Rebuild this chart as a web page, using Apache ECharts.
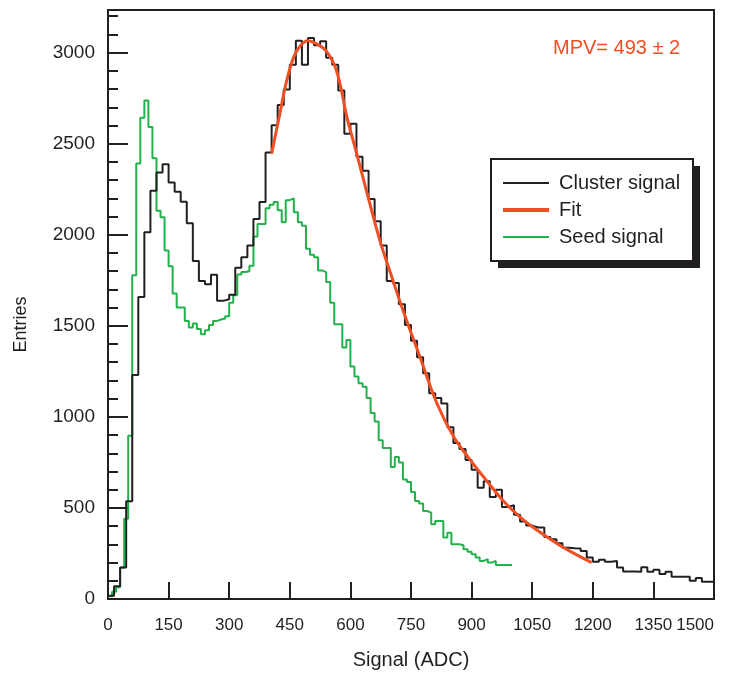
<!DOCTYPE html>
<html>
<head>
<meta charset="utf-8">
<script src="https://cdn.jsdelivr.net/npm/echarts@6/dist/echarts.min.js"></script>
<style>
html,body{margin:0;padding:0;background:#fff;}
#chart{width:739px;height:675px;}
</style>
</head>
<body>
<div id="chart"></div>
<script>
// cluster signal: 100 bins of 15 ADC from 0
var clusterBin = 15;
var clusterCounts = [18, 70, 173, 537, 1230, 1658, 2014, 2242, 2342, 2387,
  2287, 2236, 2181, 2063, 1856, 1746, 1728, 1781, 1637, 1646,
  1671, 1819, 1877, 1941, 2087, 2180, 2451, 2601, 2712, 2798,
  2934, 3065, 2934, 3080, 3040, 3062, 2972, 2934, 2792, 2555,
  2610, 2428, 2351, 2196, 2074, 1941, 1746, 1735, 1618, 1504,
  1418, 1327, 1239, 1130, 1103, 1074, 943, 857, 824, 763,
  710, 611, 647, 560, 600, 505, 515, 462, 426, 403,
  393, 393, 341, 328, 306, 282, 279, 277, 264, 228,
  204, 215, 204, 209, 173, 151, 151, 149, 175, 149,
  160, 137, 149, 122, 122, 122, 100, 115, 95, 95];
// seed signal: 100 bins of 10 ADC from 0
var seedBin = 10;
var seedCounts = [15, 40, 64, 173, 440, 897, 1777, 2391, 2643, 2737,
  2592, 2420, 2132, 2096, 1914, 1827, 1677, 1600, 1600, 1527,
  1491, 1513, 1482, 1454, 1476, 1504, 1527, 1535, 1540, 1553,
  1626, 1668, 1782, 1795, 1800, 1830, 1990, 2059, 2059, 2145,
  2165, 2180, 2135, 2068, 2190, 2200, 2123, 2068, 2050, 1923,
  1890, 1877, 1804, 1795, 1741, 1626, 1509, 1509, 1381, 1422,
  1276, 1221, 1185, 1166, 1103, 1021, 975, 871, 829, 829,
  725, 780, 750, 656, 642, 587, 538, 525, 483, 474,
  410, 428, 428, 337, 364, 301, 301, 295, 273, 259,
  246, 228, 209, 219, 200, 209, 186, 186, 186, 186];
// fit curve
var fitX = [405, 425, 442, 459, 475, 495, 515, 541, 566, 592, 616, 644, 673, 700, 731, 772, 814, 855, 896, 937, 978, 1020, 1045, 1094, 1120, 1150, 1197];
var fitY = [2445, 2660, 2843, 2971, 3035, 3065, 3050, 3007, 2898, 2640, 2442, 2205, 1968, 1785, 1580, 1330, 1075, 893, 765, 650, 540, 450, 405, 330, 292, 255, 200];
var xTicks = [0, 150, 300, 450, 600, 750, 900, 1050, 1200, 1350, 1500];
var yTicks = [0, 500, 1000, 1500, 2000, 2500, 3000];

var ink = '#231f20';
var fitColor = '#f04e23';
var seedColor = '#21b24b';
var font = 'Liberation Sans, Arial, sans-serif';

function histSteps(bin, counts) {
  var pts = [];
  for (var i = 0; i < counts.length; i++) {
    pts.push([i * bin, counts[i]]);
  }
  pts.push([counts.length * bin, counts[counts.length - 1]]);
  return pts;
}

var fitData = [];
for (var i = 0; i < fitX.length; i++) {
  fitData.push([fitX[i], fitY[i]]);
}

var myChart = echarts.init(document.getElementById('chart'), null, {renderer: 'canvas'});
myChart.setOption({
  animation: false,
  textStyle: {fontFamily: font},
  grid: {left: 108, right: 25, top: 10, bottom: 75, show: true, borderColor: ink, borderWidth: 2, backgroundColor: 'transparent'},
  xAxis: {
    type: 'value', min: 0, max: 1500, interval: 150,
    name: 'Signal (ADC)', nameLocation: 'middle', nameGap: 51,
    nameTextStyle: {fontSize: 20, color: ink},
    axisLine: {lineStyle: {color: ink, width: 2}},
    axisTick: {inside: true, length: 17, lineStyle: {color: ink, width: 2}},
    axisLabel: {
      fontSize: 17, color: ink, margin: 18, alignMaxLabel: 'right',
      formatter: function (v) { return xTicks.indexOf(v) >= 0 ? String(v) : ''; }
    },
    splitLine: {show: false}
  },
  yAxis: [{
    type: 'value', min: 0, max: 3234, interval: 500,
    name: 'Entries', nameLocation: 'middle', nameGap: 78,
    nameTextStyle: {fontSize: 18, color: ink, padding: [0, 40, 0, 0]},
    axisLine: {lineStyle: {color: ink, width: 2}},
    axisTick: {inside: true, length: 20, lineStyle: {color: ink, width: 2}},
    axisLabel: {
      fontSize: 19, color: ink, margin: 13,
      formatter: function (v) { return yTicks.indexOf(v) >= 0 ? String(v) : ''; }
    },
    splitLine: {show: false}
  }, {
    // minor ticks every 100
    type: 'value', min: 0, max: 3234, interval: 100, position: 'left',
    axisLine: {show: false},
    axisTick: {inside: true, length: 10, lineStyle: {color: ink, width: 2}},
    axisLabel: {show: false},
    splitLine: {show: false}
  }],
  legend: {
    orient: 'vertical', left: 503, top: 173, padding: 0,
    itemWidth: 46, itemHeight: 14, itemGap: 7,
    textStyle: {fontSize: 20, color: ink, padding: [0, 0, 0, 5]},
    data: [
      {name: 'Cluster signal', icon: 'path://M0,0H46V2H0Z'},
      {name: 'Fit', icon: 'path://M0,0H46V4H0Z'},
      {name: 'Seed signal', icon: 'path://M0,0H46V2H0Z'}
    ],
    z: 10
  },
  graphic: [
    {type: 'rect', z: 5, shape: {x: 498, y: 166, width: 202, height: 102}, style: {fill: ink}},
    {type: 'rect', z: 6, shape: {x: 491, y: 159, width: 202, height: 102}, style: {fill: '#fff', stroke: ink, lineWidth: 2}},
    {type: 'text', z: 6, x: 553, y: 48, style: {text: 'MPV= 493 \u00b1 2', fill: fitColor, font: '20px ' + font, verticalAlign: 'middle'}}
  ],
  series: [{
    name: 'Seed signal', type: 'line', step: 'end', symbol: 'none', z: 2,
    data: histSteps(seedBin, seedCounts),
    lineStyle: {color: seedColor, width: 2}, itemStyle: {color: seedColor}
  }, {
    name: 'Cluster signal', type: 'line', step: 'end', symbol: 'none', z: 3,
    data: histSteps(clusterBin, clusterCounts),
    lineStyle: {color: ink, width: 2}, itemStyle: {color: ink}
  }, {
    name: 'Fit', type: 'line', smooth: 0.4, symbol: 'none', z: 4,
    data: fitData,
    lineStyle: {color: fitColor, width: 3}, itemStyle: {color: fitColor}
  }]
});
</script>
</body>
</html>
